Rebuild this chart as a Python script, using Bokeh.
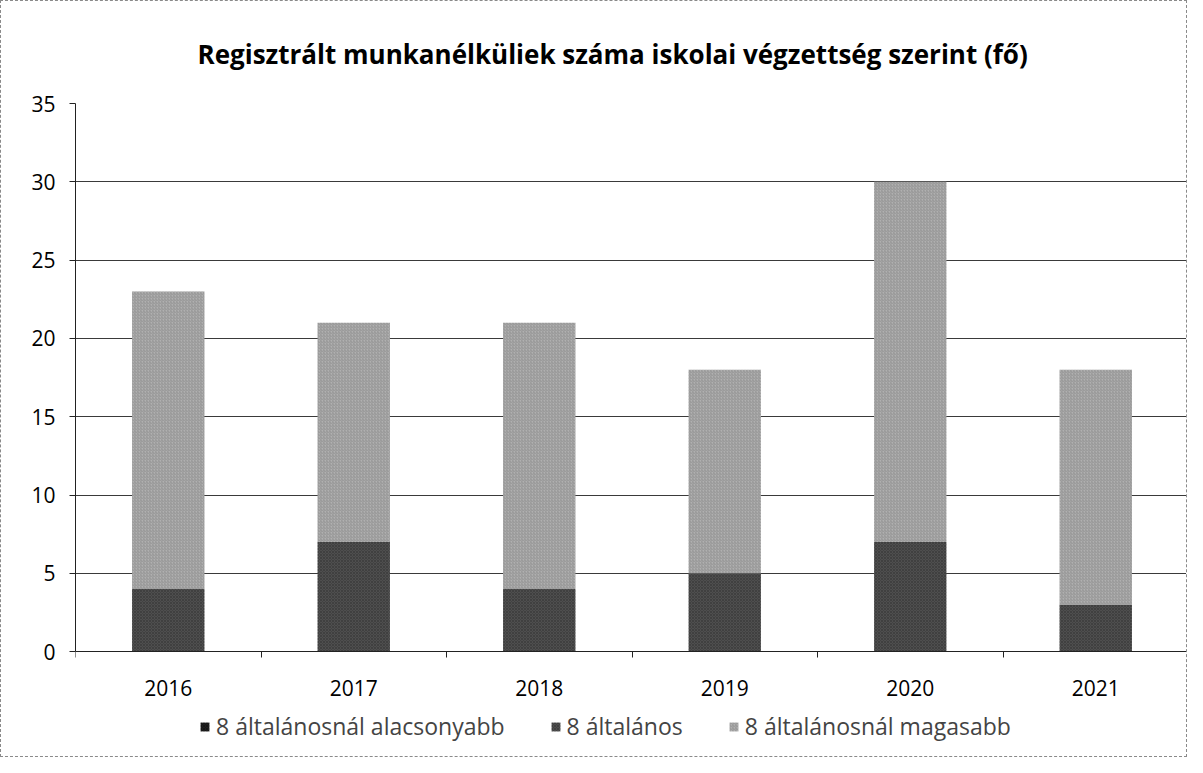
import numpy as np
from bokeh.plotting import figure
from bokeh.models import (ColumnDataSource, Legend, LegendItem, FixedTicker,
                          Range1d, Title)
from bokeh.core.properties import value
from bokeh.embed import file_html
from bokeh.resources import INLINE

years = ["2016", "2017", "2018", "2019", "2020", "2021"]
lower = [0, 0, 0, 0, 0, 0]
primary = [4, 7, 4, 5, 7, 3]
higher = [19, 14, 17, 13, 23, 15]
series = ["8 általánosnál alacsonyabb", "8 általános", "8 általánosnál magasabb"]

xpos = np.arange(len(years)) + 0.5
src = ColumnDataSource(dict(x=xpos, year=years, zero=[0] * len(years),
                            lower=lower, primary=primary, higher=higher))

FONT = "Open Sans"
YMAX = 35
# frame is extended below zero so the legend can sit under the axis
YMIN = -6.06

p = figure(width=1187, height=757, output_backend="svg", toolbar_location=None,
           x_range=Range1d(0, len(years)), y_range=Range1d(YMIN, YMAX))
p.min_border_left = 74
p.min_border_right = 0
p.min_border_top = 101
p.min_border_bottom = 12
p.outline_line_color = None
p.background_fill_color = "white"
p.border_fill_color = "white"
p.styles = {"border": "1px dashed #8a8a8a"}

p.title = Title(text="Regisztrált munkanélküliek száma iskolai végzettség szerint (fő)",
                align="left", offset=122, standoff=64, text_font=FONT,
                text_font_size="26px", text_font_style="bold", text_color="black")

fills = ["#1e1e1e", "#4e4e4e", "#b0b0b0"]
hatches = ["x", "x", "right_diagonal_line"]
hcolors = ["#000000", "#1e1e1e", "#555555"]
renderers = p.vbar_stack(["lower", "primary", "higher"], x="x", width=0.39,
                         source=src, color=fills, line_color=None,
                         hatch_pattern=hatches, hatch_color=hcolors,
                         hatch_scale=3, hatch_weight=0.6, hatch_alpha=0.5)

# category labels under the zero line
p.text(x="x", y="zero", text="year", source=src, y_offset=36,
       text_align="center", text_baseline="middle", text_font=value(FONT),
       text_font_size=value("21px"), text_color="black")

legend = Legend(items=[LegendItem(label=s, renderers=[r]) for s, r in zip(series, renderers)],
                orientation="horizontal", location=(124, 4),
                label_text_font=FONT, label_text_font_size="23px",
                glyph_width=11, glyph_height=11, spacing=45,
                label_standoff=6, border_line_color=None, padding=0, margin=0,
                background_fill_alpha=0)
p.add_layout(legend, "center")

# y axis
p.yaxis.ticker = FixedTicker(ticks=list(range(0, 36, 5)))
p.yaxis.bounds = (0, YMAX)
p.yaxis.major_label_text_font = FONT
p.yaxis.major_label_text_font_size = "21px"
p.yaxis.major_label_text_color = "black"
p.yaxis.axis_line_color = "#222222"
p.yaxis.major_tick_line_color = "#222222"
p.yaxis.major_tick_out = 6
p.yaxis.major_tick_in = 0
p.yaxis.minor_tick_line_color = None
p.yaxis.major_label_standoff = 14

# x axis drawn on the zero line, ticks between categories
p.xaxis.fixed_location = 0
p.xaxis.ticker = FixedTicker(ticks=[], minor_ticks=list(range(0, len(years) + 1)))
p.xaxis.axis_line_color = "#222222"
p.xaxis.major_tick_line_color = None
p.xaxis.minor_tick_line_color = "#222222"
p.xaxis.minor_tick_out = 6
p.xaxis.minor_tick_in = 0

p.xgrid.grid_line_color = None
p.ygrid.grid_line_color = "#3a3a3a"
p.ygrid.grid_line_width = 1

open("out.html", "w").write(file_html(p, INLINE))
